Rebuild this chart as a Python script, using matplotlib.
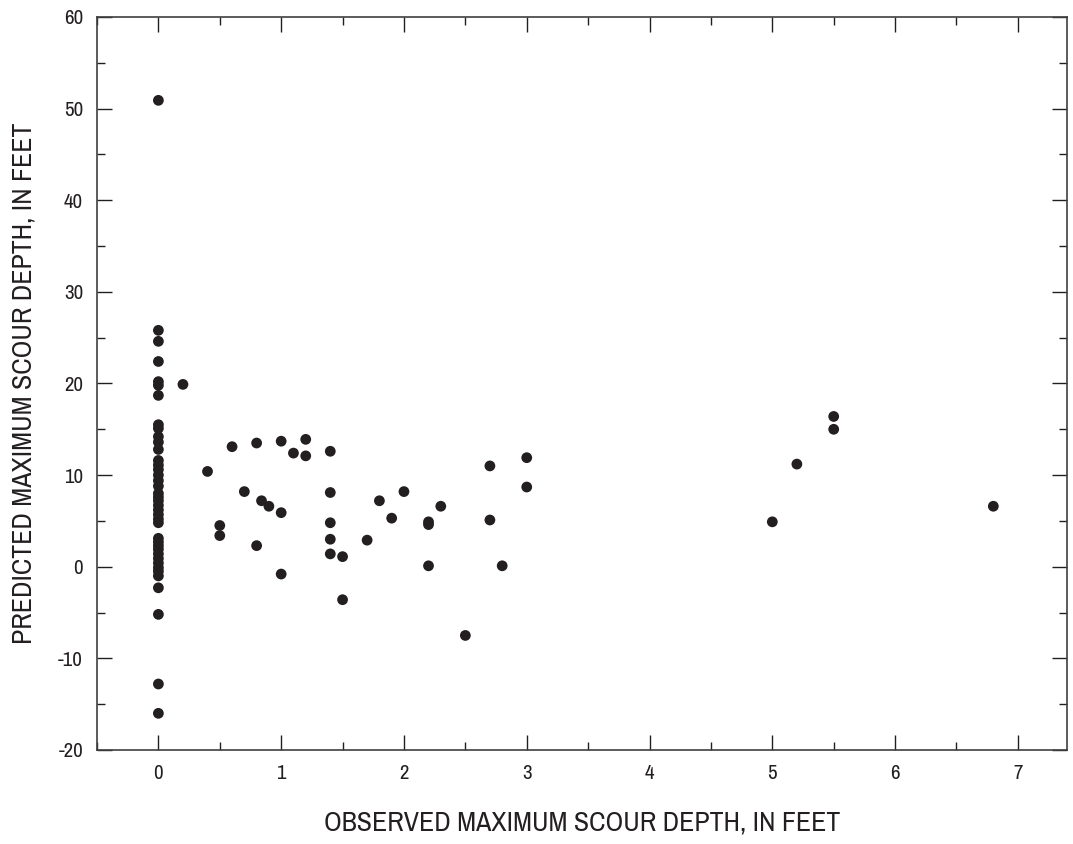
import numpy as np
import matplotlib.pyplot as plt
from matplotlib.ticker import MultipleLocator

# observed (x) and predicted (y) maximum scour depth, feet
obs_zero = [0.0] * 40
pred_zero = [50.9, 25.8, 24.6, 22.4, 20.2, 19.8, 18.7, 15.5, 15.1, 14.2,
             13.6, 12.8, 11.6, 11.1, 10.6, 10.0, 9.4, 8.8, 8.0, 7.6,
             7.2, 6.7, 6.2, 5.7, 5.2, 4.8, 3.1, 2.7, 2.3, 1.9,
             1.4, 0.9, 0.4, -0.1, -0.5, -1.0, -2.3, -5.2, -12.8, -16.0]

obs_other = [0.2, 0.4, 0.5, 0.5, 0.6, 0.7, 0.8, 0.8, 0.84, 0.9,
             1.0, 1.0, 1.0, 1.1, 1.2, 1.2, 1.4, 1.4, 1.4, 1.4,
             1.4, 1.5, 1.5, 1.7, 1.8, 1.9, 2.0, 2.2, 2.2, 2.2,
             2.3, 2.5, 2.7, 2.7, 2.8, 3.0, 3.0, 5.0, 5.2, 5.5,
             5.5, 6.8]
pred_other = [19.9, 10.4, 4.5, 3.4, 13.1, 8.2, 13.5, 2.3, 7.2, 6.6,
              13.7, 5.9, -0.8, 12.4, 13.9, 12.1, 12.6, 8.1, 4.8, 3.0,
              1.4, 1.1, -3.6, 2.9, 7.2, 5.3, 8.2, 4.6, 4.9, 0.1,
              6.6, -7.5, 11.0, 5.1, 0.1, 11.9, 8.7, 4.9, 11.2, 16.4,
              15.0, 6.6]

x = obs_zero + obs_other
y = pred_zero + pred_other

plt.rcParams['font.family'] = ['Archivo Narrow', 'DejaVu Sans']
plt.rcParams['axes.unicode_minus'] = False

fig = plt.figure(figsize=(10.73, 8.44), dpi=100)
ax = fig.add_axes([0.0904, 0.1114, 0.904, 0.8685])

ax.scatter(x, y, s=60, color='#231f20', edgecolors='none', zorder=3)

ax.set_xlim(-0.5, 7.4)
ax.set_ylim(-20, 60)
ax.xaxis.set_major_locator(MultipleLocator(1))
ax.xaxis.set_minor_locator(MultipleLocator(0.5))
ax.yaxis.set_major_locator(MultipleLocator(10))
ax.yaxis.set_minor_locator(MultipleLocator(5))

ax.tick_params(which='both', direction='in', top=True, right=True,
               colors='#231f20', labelsize=15, width=1.0)
ax.tick_params(which='major', length=11, pad=10)
ax.tick_params(which='minor', length=5.5)
for sp in ax.spines.values():
    sp.set_linewidth(1.2)
    sp.set_color('#404040')

ax.set_xlabel('OBSERVED MAXIMUM SCOUR DEPTH, IN FEET', fontsize=20,
              color='#231f20', labelpad=20)
ax.set_ylabel('PREDICTED MAXIMUM SCOUR DEPTH, IN FEET', fontsize=20,
              color='#231f20', labelpad=16)

fig.savefig('out.png', dpi=100)
